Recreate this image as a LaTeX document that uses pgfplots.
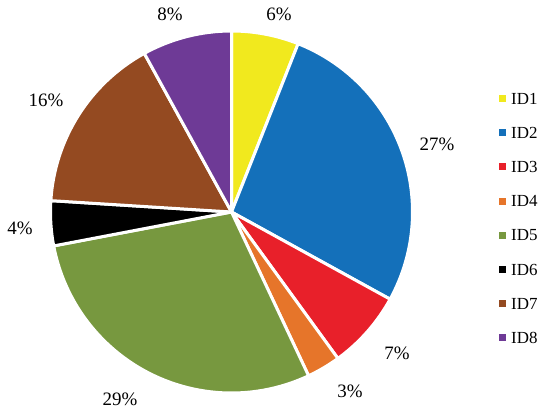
\documentclass[border=0pt]{standalone}
\usepackage{pgfplots}
\usepackage{pgfplotstable}
\pgfplotsset{compat=1.18}
\usepackage{fontspec}
\setmainfont{Liberation Serif}
\definecolor{c1}{RGB}{241,233,30}
\definecolor{c2}{RGB}{20,112,186}
\definecolor{c3}{RGB}{232,32,42}
\definecolor{c4}{RGB}{230,117,42}
\definecolor{c5}{RGB}{119,152,63}
\definecolor{c6}{RGB}{0,0,0}
\definecolor{c7}{RGB}{148,74,33}
\definecolor{c8}{RGB}{110,58,150}
\pgfplotstableread{
name value col lx ly
ID1 6  c1 279 14
ID2 27 c2 437 144
ID3 7  c3 397 353
ID4 3  c4 350 391
ID5 29 c5 120 399
ID6 4  c6 20  228
ID7 16 c7 46  100
ID8 8  c8 170 14
}\piedata
\begin{document}
\begin{tikzpicture}
\begin{axis}[
  width=550bp, height=416bp, scale only axis,
  xmin=0, xmax=550, ymin=0, ymax=416,
  hide axis, clip=false,
]
\path (axis cs:0,0) rectangle (axis cs:550,416);
\pgfplotstablegetrowsof{\piedata}
\pgfmathtruncatemacro\N{\pgfplotsretval-1}
\def\cum{0}
\pgfplotsforeachungrouped \i in {0,...,\N}{%
  \pgfplotstablegetelem{\i}{value}\of\piedata \let\v\pgfplotsretval
  \pgfplotstablegetelem{\i}{col}\of\piedata \let\c\pgfplotsretval
  \pgfplotstablegetelem{\i}{name}\of\piedata \let\nm\pgfplotsretval
  \pgfplotstablegetelem{\i}{lx}\of\piedata \let\lx\pgfplotsretval
  \pgfplotstablegetelem{\i}{ly}\of\piedata \let\ly\pgfplotsretval
  \pgfmathsetmacro\sa{90-3.6*\cum}%
  \pgfmathsetmacro\ea{90-3.6*(\cum+\v)}%
  \pgfmathsetmacro\cum{\cum+\v}%
  \pgfmathsetmacro\ly{416-\ly}%
  \pgfmathsetmacro\legy{416-(98.5+34.2*\i)}%
  \edef\temp{%
    \noexpand\fill[\c, draw=white, line width=3bp, line join=round] (axis cs:231.5,204) -- ++(\sa:181bp) arc[start angle=\sa, end angle=\ea, radius=181bp] -- cycle;
    \noexpand\node[inner sep=0pt, font=\noexpand\fontsize{19}{22}\noexpand\selectfont] at (axis cs:\lx,\ly) {\v\noexpand\%};
    \noexpand\fill[\c] (axis cs:498.5,\legy) ++(0,-3.5bp) rectangle ++(7bp,7bp);
    \noexpand\node[inner sep=0pt, anchor=west, font=\noexpand\fontsize{17}{20}\noexpand\selectfont] at (axis cs:511,\legy) {\nm};
  }%
  \temp
}
\end{axis}
\end{tikzpicture}
\end{document}
